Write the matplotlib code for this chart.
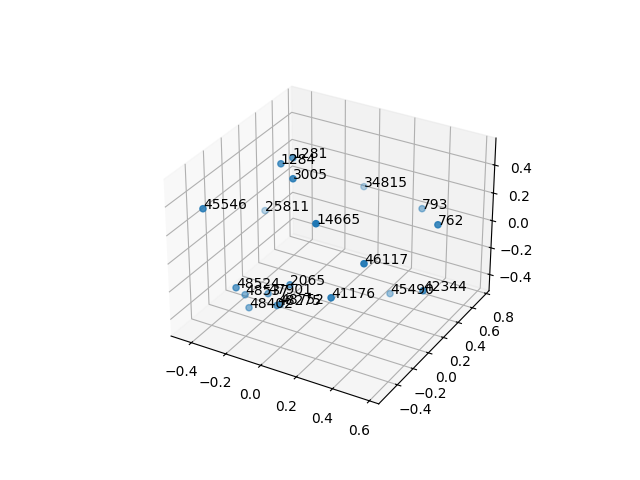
import matplotlib
matplotlib.use('Agg')
import matplotlib.pyplot as plt

# point ids and coordinates
ids = ['1281', '1284', '3005', '34815', '793', '762', '45546', '25811', '14665', '46117',
       '42344', '45490', '41176', '2065', '48524', '48537', '47901', '48402', '48752', '48275']
x = [-0.114, -0.157, -0.038, 0.019, 0.373, 0.615, -0.374, -0.384, 0.181, 0.401,
     0.611, 0.317, 0.284, 0.002, -0.221, -0.254, -0.131, -0.221, -0.016, -0.028]
y = [0.009, -0.043, -0.150, 0.598, 0.546, 0.165, -0.497, 0.218, -0.348, -0.259,
     0.001, 0.272, -0.394, -0.282, -0.454, -0.291, -0.269, -0.314, -0.362, -0.375]
z = [0.579, 0.547, 0.534, 0.144, 0.133, 0.293, 0.377, 0.011, 0.399, 0.159,
     -0.088, -0.369, -0.053, -0.130, -0.146, -0.297, -0.253, -0.367, -0.236, -0.241]
y_ticks = [-0.4, -0.2, 0.0, 0.2, 0.4, 0.6, 0.8]

fig = plt.figure()
ax = fig.add_subplot(projection='3d')
ax.scatter(x, y, z)
for i in range(len(ids)):
    ax.text(x[i], y[i], z[i], ids[i])

ax.set_xlim(-0.52, 0.65)
ax.set_ylim(-0.63, 0.84)
ax.set_zlim(-0.522, 0.59)
ax.set_yticks(y_ticks)

fig.savefig('out.png')
